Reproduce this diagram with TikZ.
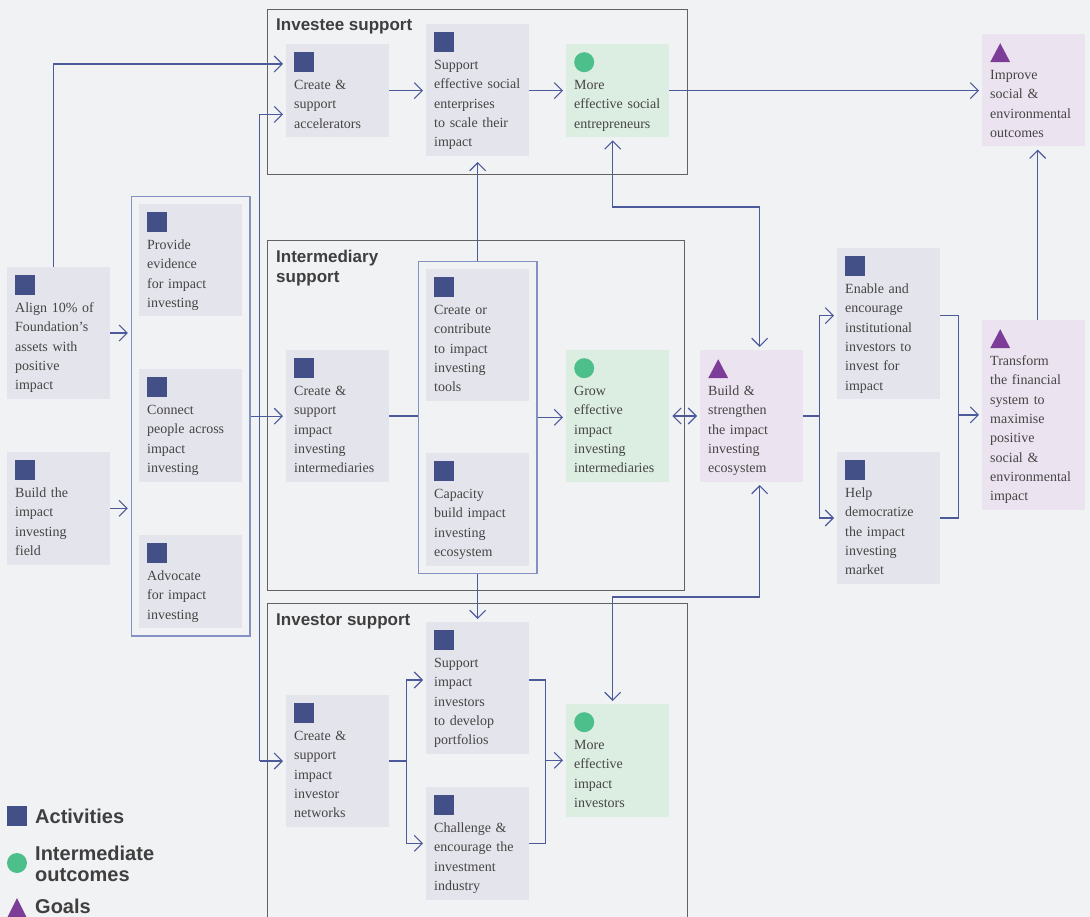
\documentclass[tikz,border=0pt]{standalone}
\usepackage{fontspec}
\setmainfont{Liberation Serif}
\setsansfont{Liberation Sans}
\usepackage{tikz}
\usetikzlibrary{positioning}
\usetikzlibrary{fit}
\usetikzlibrary{arrows.meta}

\definecolor{bgcol}{HTML}{F1F2F4}
\definecolor{actfill}{HTML}{E4E4EC}
\definecolor{outfill}{HTML}{DCEDE2}
\definecolor{goalfill}{HTML}{ECE3F0}
\definecolor{actcol}{HTML}{434F87}
\definecolor{outcol}{HTML}{4DBF8A}
\definecolor{goalcol}{HTML}{7D3C98}
\definecolor{linkcol}{HTML}{4C5A9C}
\definecolor{framecol}{HTML}{8591C2}
\definecolor{groupcol}{HTML}{626262}
\definecolor{txtcol}{HTML}{454545}
\definecolor{headcol}{HTML}{3F3F3F}

\begin{document}
\begin{tikzpicture}[x=1pt, y=-1pt,
    box/.style={anchor=north west, text width=87pt, align=left, inner xsep=8pt, inner ysep=5pt,
        font=\fontsize{14}{19.3}\selectfont, text=txtcol,
        execute at begin node={\rule{0pt}{40.4pt}},
        execute at end node={\rule[-4pt]{0pt}{4pt}}},
    activity/.style={box, fill=actfill,
        path picture={\fill[actcol] ([shift={(8pt,-8pt)}]path picture bounding box.north west) rectangle ++(20pt,-20pt);}},
    outcome/.style={box, fill=outfill,
        path picture={\fill[outcol] ([shift={(18pt,-18pt)}]path picture bounding box.north west) circle[radius=10pt];}},
    goal/.style={box, fill=goalfill,
        path picture={\fill[goalcol] ([shift={(8pt,-28pt)}]path picture bounding box.north west) -- ++(20pt,0pt) -- ++(-10pt,19pt) -- cycle;}},
    group/.style={draw=groupcol, line width=1.1pt, anchor=north west, inner sep=0pt},
    grouptitle/.style={inner sep=0pt, align=left, font=\sffamily\bfseries\fontsize{17}{20}\selectfont, text=headcol},
    frame/.style={draw=framecol, line width=1.3pt, inner sep=7.5pt},
    link/.style={draw=linkcol, line width=1.1pt},
    arrow/.style={link, -{Straight Barb[length=8pt,width=16pt]}, shorten >=3pt},
    twoway/.style={link, {Straight Barb[length=8pt,width=16pt]}-{Straight Barb[length=8pt,width=16pt]}, shorten >=3pt, shorten <=3pt},
    legend/.style={anchor=west, inner sep=0pt, align=left, font=\sffamily\bfseries\fontsize{20}{21}\selectfont, text=headcol}]

    \useasboundingbox (0,0) rectangle (1090,917);
    \fill[bgcol] (0,0) rectangle (1090,917);

    \node[group, minimum width=420pt, minimum height=165pt] (investee) at (267,9) {};
    \node[group, minimum width=417pt, minimum height=350pt] (intermediary) at (267,240) {};
    \node[group, minimum width=420pt, minimum height=330pt] (investor) at (267,603) {};
    \node[grouptitle, below right=9.5pt and 9pt of investee.north west] (investeeTitle) {Investee support};
    \node[grouptitle, below right=9.5pt and 9pt of intermediary.north west] (intermediaryTitle) {Intermediary\\support};
    \node[grouptitle, below right=10.5pt and 9pt of investor.north west] (investorTitle) {Investor support};

    \node[activity] (align) at (7,267) {Align 10\% of\\Foundation's\\assets with\\positive\\impact};
    \node[activity] (field) at (7,452) {Build the\\impact\\investing\\field};
    \node[activity] (evidence) at (139,204) {Provide\\evidence\\for impact\\investing};
    \node[activity] (connect) at (139,369) {Connect\\people across\\impact\\investing};
    \node[activity] (advocate) at (139,535) {Advocate\\for impact\\investing};
    \node[frame, fit=(evidence)(connect)(advocate)] (leftcol) {};

    \node[activity] (accel) at (286,44) {Create \&\\support\\accelerators};
    \node[activity] (scaleSE) at (426,24) {Support\\effective social\\enterprises\\to scale their\\impact};
    \node[outcome] (socEnt) at (566,44) {More\\effective social\\entrepreneurs};
    \node[goal] (improve) at (982,34) {Improve\\social \&\\environmental\\outcomes};

    \node[activity] (interm) at (286,350) {Create \&\\support\\impact\\investing\\intermediaries};
    \node[activity] (tools) at (426,269) {Create or\\contribute\\to impact\\investing\\tools};
    \node[activity] (capacity) at (426,453) {Capacity\\build impact\\investing\\ecosystem};
    \node[frame, fit=(tools)(capacity)] (toolcol) {};
    \node[outcome] (growInt) at (566,350) {Grow\\effective\\impact\\investing\\intermediaries};
    \node[goal] (ecosys) at (700,350) {Build \&\\strengthen\\the impact\\investing\\ecosystem};
    \node[activity] (enable) at (837,248) {Enable and\\encourage\\institutional\\investors to\\invest for\\impact};
    \node[activity] (democ) at (837,452) {Help\\democratize\\the impact\\investing\\market};
    \node[goal] (transform) at (982,320) {Transform\\the financial\\system to\\maximise\\positive\\social \&\\environmental\\impact};

    \node[activity] (networks) at (286,695) {Create \&\\support\\impact\\investor\\networks};
    \node[activity] (portfolios) at (426,622) {Support\\impact\\investors\\to develop\\portfolios};
    \node[activity] (challenge) at (426,787) {Challenge \&\\encourage the\\investment\\industry};
    \node[outcome] (invEff) at (566,704) {More\\effective\\impact\\investors};

    \coordinate (accIn) at ([yshift=23pt]accel.south west);
    \coordinate (spine) at ([xshift=9pt]leftcol.east);
    \coordinate (upBend) at (700,207);
    \coordinate (lowBend) at (700,597);
    \coordinate (forkR) at ([xshift=16pt]ecosys.east);
    \coordinate (joinR) at ([xshift=18pt]democ.east);
    \coordinate (forkB) at ([xshift=17pt]networks.east);
    \coordinate (joinB) at ([xshift=16pt]challenge.east);

    \draw[arrow] ([xshift=-5pt]align.north) |- ([yshift=-20pt]accel.north west);
    \draw[arrow] (align.east) -- (align.east -| leftcol.west);
    \draw[arrow] (field.east) -- (field.east -| leftcol.west);
    \draw[arrow] (leftcol.east) -- (leftcol.east -| interm.west);
    \draw[link] (accIn -| spine) -- (networks.west -| spine);
    \draw[arrow] (accIn -| spine) -- (accIn);
    \draw[arrow] (networks.west -| spine) -- (networks.west);

    \draw[arrow] (accel.east) -- (accel.east -| scaleSE.west);
    \draw[arrow] (socEnt.west -| scaleSE.east) -- (socEnt.west);
    \draw[arrow] (socEnt.east) -- (socEnt.east -| improve.west);
    \draw[arrow, shorten >=6pt] (toolcol.north) -- (toolcol.north |- scaleSE.south);
    \draw[arrow] (toolcol.south) -- (toolcol.south |- portfolios.north);

    \draw[link] (interm.east) -- (interm.east -| toolcol.west);
    \draw[arrow] (toolcol.east) -- (toolcol.east -| growInt.west);
    \draw[twoway] (growInt.east) -- (ecosys.west);
    \draw[twoway] ([xshift=-5pt]socEnt.south) |- (upBend) -| ([xshift=8pt]ecosys.north);
    \draw[twoway] ([xshift=8pt]ecosys.south) |- (lowBend) -| ([xshift=-5pt]invEff.north);

    \draw[link] (ecosys.east) -- (forkR);
    \draw[arrow] (forkR) |- ([yshift=8pt]enable.west);
    \draw[arrow] (forkR) |- (democ.west);
    \draw[link] ([yshift=8pt]enable.east) -| (joinR) -- (democ.east);
    \draw[arrow] (joinR |- transform.west) -- (transform.west);
    \draw[arrow] ([xshift=4pt]transform.north) -- ([xshift=4pt]improve.south);

    \draw[link] (networks.east) -- (forkB);
    \draw[arrow] (forkB) |- ([yshift=8pt]portfolios.west);
    \draw[arrow] (forkB) |- (challenge.west);
    \draw[link] ([yshift=8pt]portfolios.east) -| (joinB) -- (challenge.east);
    \draw[arrow] (joinB |- invEff.west) -- (invEff.west);

    \fill[actcol] (7,806) rectangle (27,826);
    \fill[outcol] (17,863) circle[radius=10pt];
    \fill[goalcol] (7,918) -- (27,918) -- (17,898) -- cycle;
    \node[legend] (legAct) at (35,816) {Activities};
    \node[legend] (legOut) at (35,864) {Intermediate\\outcomes};
    \node[legend] (legGoal) at (35,906) {Goals};
\end{tikzpicture}
\end{document}
